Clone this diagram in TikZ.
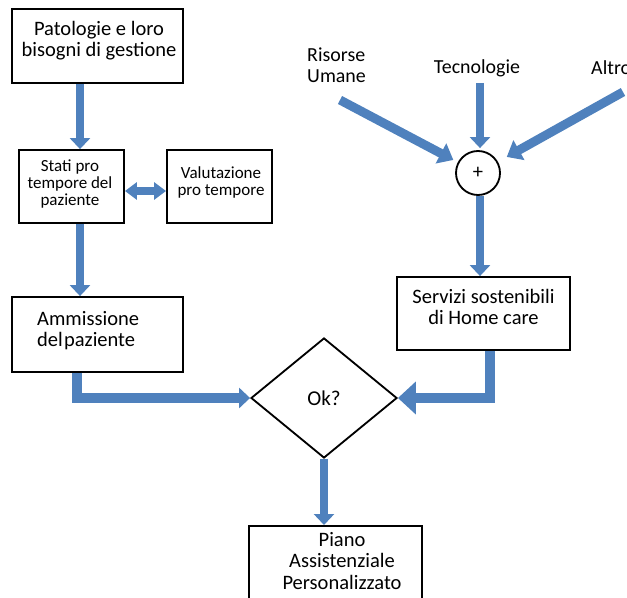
\documentclass[tikz,border=0pt]{standalone}
\usepackage{fontspec}
\setmainfont{Carlito}
\usetikzlibrary{arrows.meta,shapes.geometric}
\newdimen\pxu \pxu=0.03cm
\definecolor{flowblue}{RGB}{79,129,189}
\begin{document}
\begin{tikzpicture}[x=0.03cm,y=-0.03cm,
  box/.style={draw,line width=0.055cm,fill=white,inner sep=0pt},
  bigtext/.style={font=\fontsize{17.5}{18}\selectfont,align=center,inner sep=0pt},
  smalltext/.style={font=\fontsize{14.5}{14.5}\selectfont,align=center,inner sep=0pt},
  labeltext/.style={font=\fontsize{17}{17.5}\selectfont,inner sep=0pt},
  flow/.style={flowblue,line width=0.24cm,-{Triangle[width=0.6cm,length=0.33cm]}},
  wideflow/.style={flowblue,line width=0.3cm,-{Triangle[width=0.96cm,length=0.54cm]}},
  diagflow/.style={flowblue,line width=0.27cm,-{Triangle[width=0.66cm,length=0.42cm]}},
  twoway/.style={flowblue,line width=0.24cm,{Triangle[width=0.51cm,length=0.36cm]}-{Triangle[width=0.51cm,length=0.36cm]}}]
\useasboundingbox (0,0) rectangle (627,597);

% left column: boxes
\node[box,minimum width=171\pxu,minimum height=74\pxu] (pat) at (97.5,46) {};
\node[box,minimum width=105\pxu,minimum height=73\pxu] (stati) at (71.5,186.5) {};
\node[box,minimum width=105\pxu,minimum height=73\pxu] (valut) at (219.5,186.5) {};
\node[box,minimum width=171\pxu,minimum height=75\pxu] (amm) at (97.5,334.5) {};

% left column: texts
\node[bigtext] (pattext) at (99,41) {Patologie e loro\\bisogni di gestione};
\node[smalltext] (statitext) at (70,184) {Stati pro\\tempore del\\paziente};
\node[smalltext] (valuttext) at (221,182) {Valutazione\\pro tempore};
\node[bigtext,align=left,anchor=west] (ammtext) at (37,331) {Ammissione\\del\hspace{1pt}paziente};

% right column
\node[labeltext,align=left,anchor=west] (risorse) at (307,65) {Risorse\\Umane};
\node[labeltext] (tecno) at (477,68) {Tecnologie};
\node[labeltext,anchor=west] (altro) at (591,68) {Altro};
\node[draw,circle,line width=0.055cm,minimum size=44\pxu,inner sep=0pt,font=\fontsize{17.5}{18}\selectfont] (plus) at (478,173) {+};
\node[box,minimum width=173\pxu,minimum height=73\pxu] (serv) at (483.5,313.5) {};
\node[bigtext] (servtext) at (483.5,307) {Servizi sostenibili\\di Home care};

% decision and result
\node[draw,diamond,line width=0.055cm,minimum width=146\pxu,minimum height=120\pxu,inner sep=0pt,font=\fontsize{18}{18}\selectfont] (ok) at (324,398) {Ok?};
\node[box,minimum width=173\pxu,minimum height=80\pxu,anchor=north] (piano) at (335.5,525) {};
\node[bigtext] (pianotext) at (342,561) {Piano\\Assistenziale\\Personalizzato};

% inputs to the sum
\coordinate (rtail) at (340,100);
\coordinate (ttail) at (480,83);
\coordinate (atail) at (623,92);
\draw[diagflow,shorten >=5\pxu] (rtail) -- (plus);
\draw[flow,shorten >=2\pxu] (ttail) -- (ttail |- plus.north);
\draw[diagflow,shorten >=10\pxu] (atail) -- (plus);
\draw[flow] ([xshift=2\pxu]plus.south) -- ([xshift=2\pxu]plus.south |- serv.north);

% left flow
\draw[flow] ([xshift=-17.5\pxu]pat.south) -- ([xshift=-17.5\pxu]pat.south |- stati.north);
\draw[twoway] ([yshift=-4.5\pxu]stati.east) -- ([yshift=-4.5\pxu]valut.west);
\draw[flow] ([xshift=8.5\pxu]stati.south) -- ([xshift=8.5\pxu]stati.south |- amm.north);

% into the decision and down to the plan
\draw[flowblue,line width=0.3cm,-{Triangle[width=0.6cm,length=0.33cm]}] ([xshift=-20.5\pxu]amm.south) |- (ok.west);
\draw[wideflow] ([xshift=6.5\pxu]serv.south) |- (ok.east);
\draw[flow] (ok.south) -- (ok.south |- piano.north);
\end{tikzpicture}
\end{document}
